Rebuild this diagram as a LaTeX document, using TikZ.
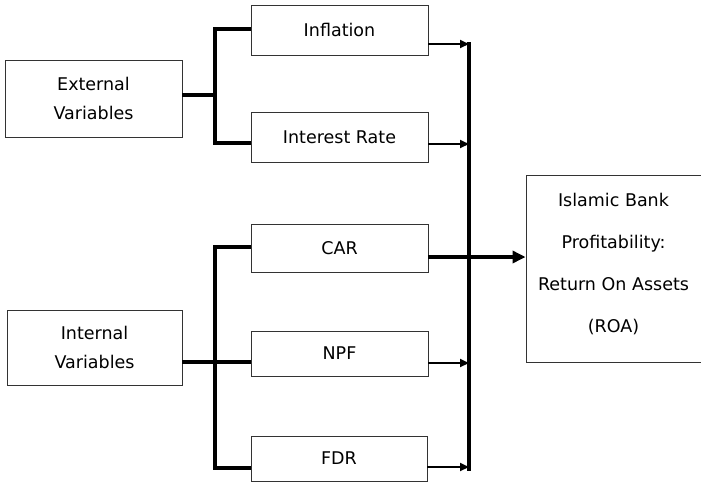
\documentclass[tikz,border=0pt]{standalone}
\usepackage{fontspec}
\setmainfont{DejaVu Sans}
\usetikzlibrary{arrows.meta}
\tikzstyle{varbox}=[draw=black!80, line width=0.9pt, align=center, inner sep=0pt, font=\fontsize{17.5}{29}\selectfont]
\tikzstyle{link}=[line width=3.8pt]
\tikzstyle{feed}=[line width=2pt, -{Triangle[length=9pt,width=8pt]}]
\tikzstyle{bigfeed}=[line width=3.8pt, -{Triangle[length=13pt,width=12pt]}]

\begin{document}
\begin{tikzpicture}[x=1pt,y=-1pt]
				\useasboundingbox (0,0) rectangle (701,483);

				\coordinate (bustop) at (469,42);
				\coordinate (busbot) at (469,471);
				\coordinate (xsplit) at (215,95);
				\coordinate (isplit) at (215,362);

				\node[varbox, minimum width=177pt, minimum height=77pt] (ext) at (93.5,98.5) {External\\Variables};
				\node[varbox, minimum width=175pt, minimum height=75pt] (intl) at (94.5,347.5) {Internal\\Variables};

				\node[varbox, minimum width=177pt, minimum height=50pt] (infl) at (339.5,30) {Inflation};
				\node[varbox, minimum width=177pt, minimum height=50pt] (rate) at (339.5,137) {Interest Rate};
				\node[varbox, minimum width=177pt, minimum height=48pt] (car) at (339.5,248) {CAR};
				\node[varbox, minimum width=177pt, minimum height=45pt] (npf) at (339.5,353.5) {NPF};
				\node[varbox, minimum width=176pt, minimum height=45pt] (fdr) at (339,458.5) {FDR};

				\node[varbox, minimum width=175pt, minimum height=187pt, font=\fontsize{17.5}{42}\selectfont] (roa) at (613.5,268.5) {};
				\node[align=center, inner sep=0pt, font=\fontsize{17.5}{42}\selectfont] (roatext) at ([yshift=5pt]roa.center) {Islamic Bank\\Profitability:\\Return On Assets\\(ROA)};

				% left brackets
				\draw[link] (ext.east |- xsplit) -- (xsplit);
				\draw[link] ([yshift=1pt]infl.west) -| (xsplit) |- ([yshift=-6pt]rate.west);
				\draw[link] (intl.east |- isplit) -- (npf.west |- isplit);
				\draw[link] ([yshift=1pt]car.west) -| (isplit) |- ([yshift=-9.5pt]fdr.west);

				% bus to the right
				\draw[link, line width=4pt] (bustop) -- (busbot);
				\draw[feed] ([yshift=-14pt]infl.east) -- ([yshift=-14pt]infl.east -| bustop);
				\draw[feed] ([yshift=-7pt]rate.east) -- ([yshift=-7pt]rate.east -| bustop);
				\draw[feed] ([yshift=-9.5pt]npf.east) -- ([yshift=-9.5pt]npf.east -| bustop);
				\draw[feed] ([yshift=-8.5pt]fdr.east) -- ([yshift=-8.5pt]fdr.east -| bustop);
				\draw[bigfeed] ([yshift=-9pt]car.east) -- ([yshift=-9pt]car.east -| roa.west);
			\end{tikzpicture}
\end{document}
